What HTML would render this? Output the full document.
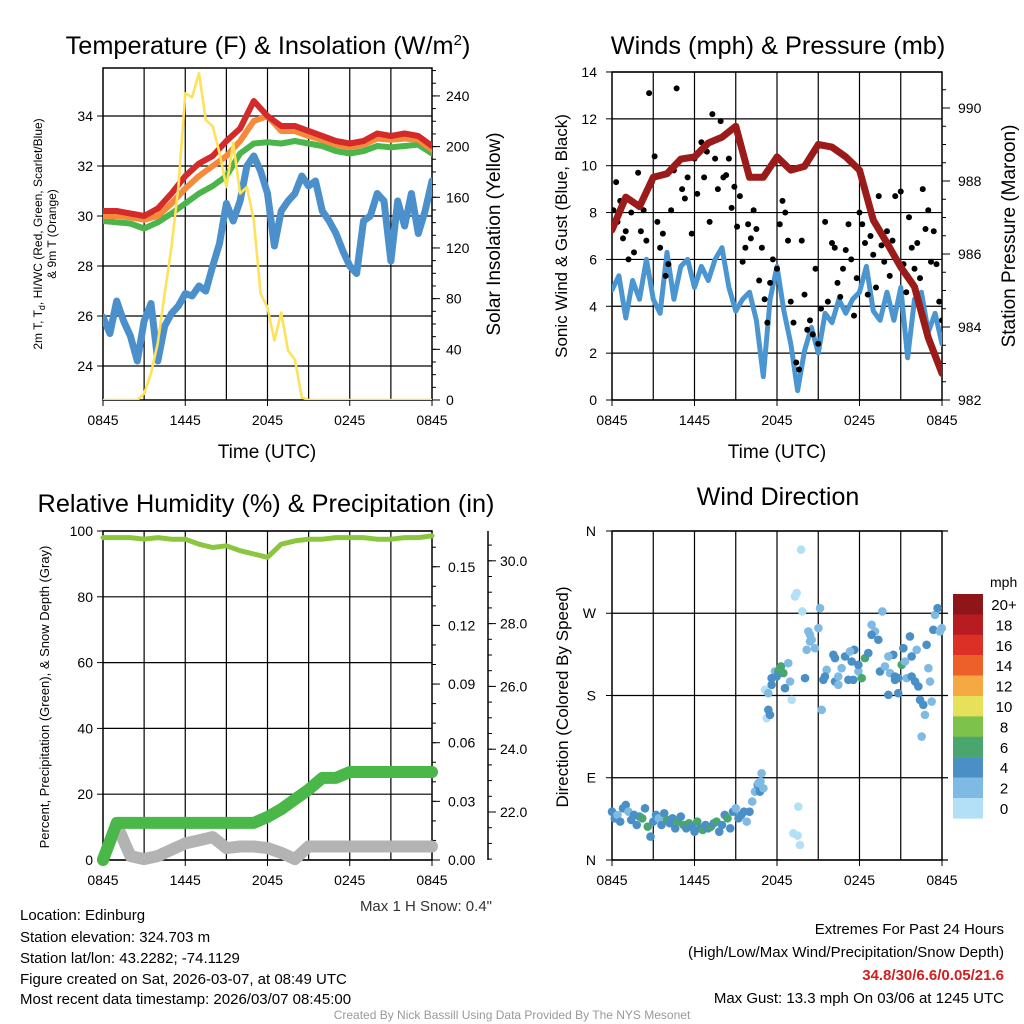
<!DOCTYPE html>
<html><head><meta charset="utf-8"><style>
body{margin:0;background:#fff}
svg{display:block;font-family:"Liberation Sans",Arial,sans-serif}
</style></head><body>
<svg id="s" width="1024" height="1024" viewBox="0 0 1024 1024" xmlns="http://www.w3.org/2000/svg">
<defs>
<clipPath id="c1"><rect x="103" y="68" width="329" height="332"/></clipPath>
<clipPath id="c2"><rect x="612" y="72" width="330" height="328"/></clipPath>
<clipPath id="c3"><rect x="96" y="524" width="343" height="343"/></clipPath>
<clipPath id="c4"><rect x="606" y="525" width="342" height="340"/></clipPath>
</defs>
</svg>
<script>
// ---------- data ----------
const xTickLabels=["0845","1445","2045","0245","0845"];
const hrs25=[0,1,2,3,4,5,6,7,8,9,10,11,12,13,14,15,16,17,18,19,20,21,22,23,24];
const tempRed=[30.2,30.2,30.1,30.0,30.3,30.9,31.6,32.1,32.4,33.0,33.5,34.6,34.0,33.6,33.6,33.4,33.2,33.0,32.9,33.0,33.3,33.2,33.3,33.2,32.8];
const tempOrange=[30.0,30.0,29.95,29.85,30.0,30.5,31.1,31.6,32.0,32.4,33.0,33.8,34.0,33.4,33.4,33.2,33.05,32.85,32.75,32.85,33.1,33.05,33.1,33.05,32.65];
const tempGreen=[29.8,29.75,29.7,29.5,29.75,30.1,30.5,30.9,31.2,31.6,32.5,32.9,32.95,32.9,33.0,32.9,32.8,32.6,32.5,32.6,32.8,32.75,32.8,32.85,32.5];
const hrs49=[0,0.5,1,1.5,2,2.5,3,3.5,4,4.5,5,5.5,6,6.5,7,7.5,8,8.5,9,9.5,10,10.5,11,11.5,12,12.5,13,13.5,14,14.5,15,15.5,16,16.5,17,17.5,18,18.5,19,19.5,20,20.5,21,21.5,22,22.5,23,23.5,24];
const tempBlue=[25.96,25.3,26.6,25.8,25.2,24.2,25.8,26.5,24.2,25.6,26.1,26.4,26.9,26.8,27.2,27.0,28.0,28.9,30.5,29.8,30.6,32.0,32.4,31.8,30.9,28.8,30.2,30.6,30.9,31.6,31.2,31.4,30.2,29.8,29.3,28.6,28.0,27.7,29.8,30.0,30.9,30.6,28.2,30.6,29.6,30.9,29.3,30.2,31.4];
const solar=[0,0,0,0,0,0,5,21,45,84,121,168,242,239,258,221,216,195,168,203,163,168,142,84,73,47,69,39,32,2,0,0,0,0,0,0,0,0,0,0,0,0,0,0,0,0,0,0,0];
const windSonic=[4.7,5.3,3.5,5.1,4.3,6.0,4.3,3.7,6.3,4.3,5.7,6.0,4.8,5.7,5.1,6.0,6.5,4.8,3.8,4.3,4.6,3.4,1.0,4.3,5.7,3.8,2.4,0.4,2.1,3.1,2.0,3.7,3.3,4.3,3.7,4.3,4.6,5.7,3.8,3.4,4.6,3.4,4.8,1.8,4.3,4.6,2.9,3.7,2.4];
const pressure=[986.66,987.56,987.3,988.1,988.2,988.6,988.66,989.04,989.2,989.5,988.1,988.1,988.66,988.3,988.4,989.0,988.93,988.66,988.3,986.93,986.3,985.64,985.1,983.7,982.73];
const gustHours=[0.1,0.3,0.4,0.6,0.8,1,1.2,1.4,1.6,1.9,2.1,2.3,2.5,2.7,2.9,3.1,3.3,3.5,3.7,3.9,4.1,4.3,4.5,4.7,4.9,5.1,5.3,5.5,5.8,6.0,6.2,6.5,6.7,6.9,7.1,7.3,7.5,7.7,7.9,8.1,8.3,8.5,8.7,8.9,9.1,9.3,9.5,9.7,9.9,10.1,10.3,10.5,10.7,10.9,11.1,11.3,11.5,11.7,12,12.2,12.4,12.6,12.8,13.0,13.2,13.4,13.6,13.8,14.0,14.2,14.4,14.6,14.8,15.0,15.2,15.5,15.7,16.0,16.2,16.4,16.6,16.8,17.0,17.2,17.4,17.6,17.8,18.0,18.2,18.4,18.6,18.8,19.0,19.2,19.4,19.6,19.8,20.0,20.2,20.4,20.6,20.8,21.0,21.2,21.4,21.6,21.8,22.0,22.2,22.4,22.6,22.8,23.0,23.2,23.4,23.6,23.8,24];
const gustVals=[8.1,9.3,7.6,8.5,6.9,7.2,6.0,8.0,6.3,9.7,7.2,8.1,6.8,13.1,9.3,10.4,7.6,6.5,7.1,5.3,5.8,8.1,9.8,13.3,10.2,9.0,8.6,9.5,7.1,10.3,8.8,11.0,9.5,10.6,7.6,12.2,10.3,9.0,11.9,9.5,9.6,10.3,8.2,9.1,7.4,8.7,5.9,6.5,7.5,6.9,8.1,7.3,5.1,6.5,4.3,3.3,5.0,6.0,5.6,7.5,8.5,8.0,6.8,4.2,3.3,1.6,1.3,6.8,4.5,3.0,3.4,2.8,5.6,2.4,3.9,7.6,4.2,6.7,6.5,5.0,4.4,5.6,6.4,7.5,6.0,3.6,5.2,8.0,7.5,6.7,4.5,7.0,6.2,4.8,8.7,6.6,5.9,7.2,5.3,6.8,8.7,5.9,8.9,5.8,4.6,7.8,6.5,5.6,6.7,5.2,9.0,7.3,8.1,5.9,7.2,5.8,4.2,3.4];
const rhVals=[98,98,98,97.5,98,97.5,97.5,96,95,95.5,94,93,92,96,97,97.5,97.5,98,98,98,97.5,97.5,98,98,98.5];
const precipVals=[0,0.019,0.019,0.019,0.019,0.019,0.019,0.019,0.019,0.019,0.019,0.019,0.022,0.026,0.031,0.036,0.042,0.042,0.045,0.045,0.045,0.045,0.045,0.045,0.045];
const snowVals=[20.5,21.6,20.6,20.5,20.6,20.8,21.0,21.1,21.2,20.85,20.9,20.9,20.85,20.7,20.5,20.9,20.9,20.9,20.9,20.9,20.9,20.9,20.9,20.9,20.9];
const dirHours=[0,0.2,0.4,0.6,0.8,1.0,1.2,1.4,1.6,1.8,2.0,2.2,2.4,2.6,2.8,3.0,3.2,3.4,3.6,3.8,4.0,4.2,4.4,4.6,4.8,5.0,5.2,5.4,5.6,5.8,6.0,6.2,6.4,6.6,6.8,7.0,7.2,7.4,7.6,7.8,8.0,8.2,8.4,8.6,8.8,9.0,9.2,9.4,9.6,9.8,10.0,10.2,10.4,10.6,10.8,
13.07,13.43,13.31,13.75,13.84,13.55,13.19,13.5,13.67,14.04,14.28,14.52,14.76,14.16,15.13,15.01,15.25,15.37,15.61,16.1,16.22,16.46,16.7,16.95,17.19,17.43,17.62,17.92,18.16,18.4,18.64,18.88,19.13,19.37,19.49,19.66,19.85,20.1,20.22,20.46,20.58,20.82,21.07,21.19,21.43,21.67,21.79,22.04,22.28,22.4,22.52,22.64,22.76,22.88,23.01,23.13,23.25,23.37,23.49,23.68,23.85,23.98,16.46,17.31,17.92,18.88,20.1,20.82,22.16,15.49,16.22,17.55,20.58,21.79,21.31,14.4,14.4,
10.88,10.64,10.76,11.01,11.37,11.25,11.49,11.13,11.37,11.61,11.85,12.1,12.29,12.46,12.58,12.82,12.95,11.61,11.98];
const dirDeg=[52.9,45.6,49.3,42.0,56.6,60.2,52.9,43.8,49.3,38.3,47.5,45.6,56.6,36.5,25.6,42.0,49.3,45.6,38.3,51.1,43.8,40.2,45.6,34.7,42.0,47.5,38.3,34.7,40.2,36.5,31.0,42.0,34.7,32.9,38.3,34.7,36.5,40.2,42.0,31.0,38.3,49.3,45.6,34.7,52.9,56.6,45.6,49.3,52.9,42.0,52.9,63.9,74.8,82.1,85.8,
175.2,292.1,288.4,339.5,272.0,58.4,29.2,26.7,16.4,199.0,250.1,241.0,231.8,230.0,275.6,253.7,164.3,197.2,208.1,224.5,195.3,200.8,209.9,222.7,197.2,217.2,230.0,206.3,199.0,220.9,226.4,257.4,250.1,241.0,206.3,272.0,211.8,180.7,204.5,224.5,200.8,182.5,213.6,231.8,199.0,244.6,222.7,195.3,189.9,175.2,135.1,169.8,158.8,235.5,209.9,195.3,173.4,251.9,268.3,275.6,250.1,253.7,191.7,228.2,213.6,246.4,222.7,199.0,230.0,200.8,220.9,197.2,197.2,200.8,217.2,246.4,239.1,
94.9,84.0,74.8,78.5,164.3,155.2,158.8,186.2,182.5,191.7,206.3,206.3,211.8,204.5,188.0,215.4,195.3,199.0,200.8];
const dirSpeed=[4.5,4.5,3,4.5,4.5,4.5,3,4.5,4.5,4.5,4.5,6.5,4.5,6.5,4.5,4.5,4.5,3,4.5,4.5,6.5,4.5,4.5,4.5,6.5,4.5,6.5,4.5,6.5,4.5,4.5,6.5,4.5,6.5,4.5,4.5,6.5,4.5,6.5,4.5,4.5,4.5,6.5,4.5,4.5,3,4.5,4.5,4.5,3,4.5,3,3,4.5,3,
1,1,1,1,1,1,1,1,1,4.5,3,3,3,3,3,3,3,4.5,3,4.5,4.5,3,3,4.5,4.5,4.5,4.5,3,6.5,6.5,4.5,3,3,4.5,4.5,3,3,4.5,3,4.5,4.5,4.5,6.5,4.5,3,4.5,4.5,4.5,4.5,4.5,3,4.5,3,4.5,3,3,3,4.5,3,4.5,3,3,3,3,4.5,4.5,3,4.5,3,4.5,4.5,4.5,4.5,4.5,3,3,3,
3,3,4.5,3,4.5,1,4.5,1,3,4.5,3,6.5,6.5,6.5,4.5,3,3,4.5,4.5];
const cbLabels=["20+","18","16","14","12","10","8","6","4","2","0"];
const cbColors=["#8e1518","#b81c22","#dc3027","#ee6029","#f6a843","#e6e05a","#7dc24a","#48a66e","#4a8fc6","#7fbae2","#b3e0f7"];
const tempTicks=[24,26,28,30,32,34];
const solarTicks=[0,40,80,120,160,200,240];
const windTicks=[0,2,4,6,8,10,12,14];
const presTicks=[982,984,986,988,990];
const pctTicks=[0,20,40,60,80,100];
const precipTicks=[0,0.03,0.06,0.09,0.12,0.15];
const snowTicks=[22,24,26,28,30];
const dirTicks=["N","E","S","W","N"];

// ---------- helpers ----------
const svg=document.getElementById('s');
const NS="http://www.w3.org/2000/svg";
function mk(tag,at,parent){const e=document.createElementNS(NS,tag);for(const k in at)e.setAttribute(k,at[k]);(parent||svg).appendChild(e);return e;}
function txt(x,y,s,size,anchor,extra){const t=mk('text',Object.assign({x:x,y:y,'font-size':size,'text-anchor':anchor||'middle',fill:'#000'},extra||{}));t.textContent=s;return t;}
function line(x1,y1,x2,y2,c,w){return mk('line',{x1:x1,y1:y1,x2:x2,y2:y2,stroke:c||'#000','stroke-width':w||1});}
function pathOf(xs,ys,fx,fy){return xs.map((h,i)=>(i?'L':'M')+fx(h).toFixed(1)+','+fy(ys[i]).toFixed(1)).join('');}

const X1=h=>103+h*(329/24), X2=h=>612+h*(330/24);
const yT=v=>116+(34-v)*25, yS=v=>400-v*1.267;
const yW=v=>400-v*23.43, yP=p=>400-(p-982)*36.5;
const yPct=v=>860-v*3.29, yPr=v=>860-v*1955, ySn=v=>812-(v-22)*31.4;
const yD=d=>860-d*0.9139;

function frame(x0,y0,x1,y1,X,name){
  for(let h=3;h<24;h+=3){const l=line(X(h),y0,X(h),y1,'#000',1.2);
  
  }
  const r=mk('rect',{x:x0,y:y0,width:x1-x0,height:y1-y0,fill:'none',stroke:'#000','stroke-width':1.5});
  
  
  xTickLabels.forEach((s,i)=>{const x=X(i*6);line(x,y1,x,y1+6);const t=txt(x,y1+25,s,14);
  
  });
}
function hgrid(vals,fy,x0,x1,labX,fmt,name){vals.forEach(v=>{const y=fy(v);line(x0,y,x1,y,'#000',1.2);line(x0-6,y,x0,y);const t=txt(labX,y+5,fmt(v),14,'end');
  
  });}
let y0min=0,y0max=1024;
function rticks(vals,fy,x,labX,fmt,name,minor,lo,hi){
  for(let v=lo;v<=hi+1e-9;v+=minor){const y=fy(v);if(y>=y0min&&y<=y0max)line(x,y,x+4,y);}
  vals.forEach(v=>{const y=fy(v);line(x,y,x+8,y);const t=txt(labX,y+5,fmt(v),14,'start');
  
  });}
function series(d,clip,stroke,w,name,extra){const g=mk('path',Object.assign({d:d,fill:'none',stroke:stroke,'stroke-width':w,'stroke-linejoin':'round','stroke-linecap':'round','clip-path':'url(#'+clip+')'},extra||{}));
  
  return g;}

// ---------- Panel 1 ----------
frame(103,68,432,400,X1,'temp-panel');
hgrid(tempTicks,yT,103,432,93,v=>v,'temp-tick-label');
y0min=68;y0max=400;
rticks(solarTicks,yS,432,446,v=>v,'solar-tick-label',10,0,260);
series(pathOf(hrs49,tempBlue,X1,yT),'c1','#4b8fcb',7,'dewpoint-line');
series(pathOf(hrs25,tempGreen,X1,yT),'c1','#4bb44b',6,'heat-index-line');
series(pathOf(hrs25,tempOrange,X1,yT),'c1','#f58a3a',6,'temp-9m-line');
series(pathOf(hrs25,tempRed,X1,yT),'c1','#d42a2a',6,'temp-2m-line');
series(pathOf(hrs49,solar,X1,yS),'c1','#fde25a',2.6,'solar-line');
let t;
t=txt(268,54,'',25.3);t.innerHTML='Temperature (F) &amp; Insolation (W/m<tspan dy="-9" font-size="15">2</tspan><tspan dy="9">)</tspan>';


t=txt(267,458,'Time (UTC)',19);


t=txt(0,0,'',12,'middle',{transform:'translate(42,234) rotate(-90)'});t.innerHTML='2m T, T<tspan dy="3" font-size="9">d</tspan><tspan dy="-3">, HI/WC (Red, Green, Scarlet/Blue)</tspan>';


t=txt(0,0,'& 9m T (Orange)',12,'middle',{transform:'translate(56,234) rotate(-90)'});


t=txt(0,0,'Solar Insolation (Yellow)',19,'middle',{transform:'translate(500,234) rotate(-90)'});



// ---------- Panel 2 ----------
frame(612,72,942,400,X2,'wind-panel');
hgrid(windTicks,yW,612,942,597,v=>v,'wind-tick-label');
y0min=72;y0max=400;
rticks(presTicks,yP,942,958,v=>v,'pressure-tick-label',0.5,982,990.5);
series(pathOf(hrs49,windSonic,X2,yW),'c2','#4b95d0',5,'sonic-wind-line');
gustHours.forEach((h,i)=>{const c=mk('circle',{cx:X2(h),cy:yW(gustVals[i]),r:3,fill:'#000','clip-path':'url(#c2)'});
  
  });
series(pathOf(hrs25,pressure,X2,yP),'c2','#9b1b1b',7,'pressure-line');
t=txt(778,54,'Winds (mph) & Pressure (mb)',25.3);


t=txt(777,458,'Time (UTC)',19);


t=txt(0,0,'Sonic Wind & Gust (Blue, Black)',17,'middle',{transform:'translate(567,236) rotate(-90)'});


t=txt(0,0,'Station Pressure (Maroon)',19,'middle',{transform:'translate(1015,236) rotate(-90)'});



// ---------- Panel 3 ----------
frame(103,531,432,860,X1,'rh-panel');
hgrid(pctTicks,yPct,103,432,93,v=>v,'percent-tick-label');
y0min=531;y0max=860;
rticks(precipTicks,yPr,432,448,v=>v.toFixed(2),'precip-tick-label',0.01,0,0.16);
line(488,531,488,860,'#000',1.5);
rticks(snowTicks,ySn,488,500,v=>v.toFixed(1),'snow-tick-label',0.5,20.5,32);
series(pathOf(hrs25,rhVals,X1,yPct),'c3','#8cc63f',5,'rh-line');
series(pathOf(hrs25,snowVals,X1,ySn),'c3','#b3b3b3',12,'snow-depth-line');
series(pathOf(hrs25,precipVals,X1,yPr),'c3','#4ab848',12,'precip-line');
t=txt(266,512,'Relative Humidity (%) & Precipitation (in)',25.3);


t=txt(0,0,'Percent, Precipitation (Green), & Snow Depth (Gray)',13,'middle',{transform:'translate(49,697) rotate(-90)'});


t=txt(492,911,'Max 1 H Snow: 0.4"',15,'end',{fill:'#333'});



// ---------- Panel 4 ----------
frame(612,531,942,860,X2,'dir-panel');
dirTicks.forEach((s,i)=>{const y=yD(i*90);line(612,y,948,y,'#000',1.2);line(606,y,612,y);const tt=txt(596,y+5,s,14,'end');
  
  });
function spdColor(s){const idx=Math.min(10,Math.floor(s/2));return cbColors[10-idx];}
dirHours.forEach((h,i)=>{const c=mk('circle',{cx:X2(h),cy:yD(dirDeg[i]),r:4.3,fill:spdColor(dirSpeed[i]),'clip-path':'url(#c4)'});
  
  });
t=txt(778,505,'Wind Direction',25);


t=txt(0,0,'Direction (Colored By Speed)',17,'middle',{transform:'translate(568,697) rotate(-90)'});


t=txt(990,587,'mph',14,'start');


cbLabels.forEach((s,i)=>{const y=594+i*20.4;const r=mk('rect',{x:953,y:y,width:30,height:20.6,fill:cbColors[i]});
  
  
  const tt=txt(1004,y+16,s,15,'middle');
  
  });

// ---------- footer text ----------
const infoLines=["Location: Edinburg","Station elevation: 324.703 m","Station lat/lon: 43.2282; -74.1129","Figure created on Sat, 2026-03-07, at 08:49 UTC","Most recent data timestamp: 2026/03/07 08:45:00"];
const infoY=[920,942,963,984,1004];
infoLines.forEach((s,i)=>{const tt=txt(20,infoY[i],s,15,'start');
  
  });
t=txt(1004,934,'Extremes For Past 24 Hours',15,'end');


t=txt(1004,957,'(High/Low/Max Wind/Precipitation/Snow Depth)',15,'end');


t=txt(1004,980,'34.8/30/6.6/0.05/21.6',15,'end',{fill:'#d02020','font-weight':'bold'});


t=txt(1004,1003,'Max Gust: 13.3 mph On 03/06 at 1245 UTC',15,'end');


t=txt(512,1019,'Created By Nick Bassill Using Data Provided By The NYS Mesonet',12,'middle',{fill:'#999'});


</script>
</body></html>
